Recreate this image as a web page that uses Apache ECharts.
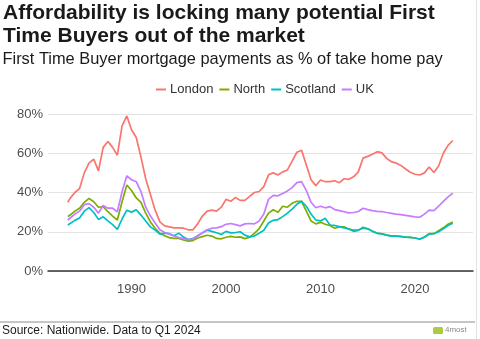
<!DOCTYPE html>
<html>
<head>
<meta charset="utf-8">
<script src="https://cdn.jsdelivr.net/npm/echarts@6/dist/echarts.min.js"></script>
<style>
  html, body { margin: 0; padding: 0; background: #ffffff; }
  #chart { width: 480px; height: 339px; }
</style>
</head>
<body>
<div id="chart"></div>
<script>
// Half-yearly observation dates (decimal years)
const periods = [
  1983.25, 1983.5, 1984.0, 1984.5, 1985.0, 1985.5, 1986.0, 1986.5, 1987.0, 1987.5,
  1988.0, 1988.5, 1989.0, 1989.5, 1990.0, 1990.5, 1991.0, 1991.5, 1992.0, 1992.5,
  1993.0, 1993.5, 1994.0, 1994.5, 1995.0, 1995.5, 1996.0, 1996.5, 1997.0, 1997.5,
  1998.0, 1998.5, 1999.0, 1999.5, 2000.0, 2000.5, 2001.0, 2001.5, 2002.0, 2002.5,
  2003.0, 2003.5, 2004.0, 2004.5, 2005.0, 2005.5, 2006.0, 2006.5, 2007.0, 2007.5,
  2008.0, 2008.5, 2009.0, 2009.5, 2010.0, 2010.5, 2011.0, 2011.5, 2012.0, 2012.5,
  2013.0, 2013.5, 2014.0, 2014.5, 2015.0, 2015.5, 2016.0, 2016.5, 2017.0, 2017.5,
  2018.0, 2018.5, 2019.0, 2019.5, 2020.0, 2020.5, 2021.0, 2021.5, 2022.0, 2022.5,
  2023.0, 2023.5, 2024.0
];

// First Time Buyer mortgage payments as % of take home pay
const london = [
  35, 37, 40, 42, 50, 55, 57, 51, 63, 66,
  63, 59, 74, 79, 72, 68, 58, 47, 39, 31,
  25, 23, 22.5, 22, 22, 21.8, 21, 21, 24, 28,
  30.5, 31, 30.5, 32.5, 36.5, 35.5, 37.5, 36, 36, 38,
  40, 40.5, 43, 49, 50, 48.9, 50.5, 51.5, 56, 60.5,
  61.5, 54, 46.5, 43.5, 46.4, 45.5, 45.5, 46, 45, 47,
  46.7, 48, 50.5, 57.5, 58.4, 59.5, 60.8, 60.2, 57.4, 55.7,
  55, 53.8, 52, 50.3, 49.3, 48.9, 50, 53, 50.2, 53.5,
  60, 64, 66.5
];
const north = [
  27.7, 28.5, 30.5, 32, 35, 37, 35.3, 32.5, 32.8, 30.2,
  28, 26, 35.3, 43.8, 41, 37.2, 35, 29.5, 25, 21.8,
  19.2, 18, 17, 16.6, 16.6, 15.8, 15.2, 15.5, 16.8, 17.5,
  18.2, 17.8, 16.6, 16.4, 17.2, 17.6, 17.2, 17.4, 16.5, 17.2,
  19.2, 21.5, 25.5, 29.5, 31.2, 29.9, 33, 32.5, 34.5, 35.5,
  35.5, 30.5, 25.5, 24, 24.8, 23.8, 23.2, 21.8, 22.5, 22.5,
  21.3, 20.8, 20.9, 21.8, 21.5, 20.3, 19.3, 18.9, 18.3, 17.9,
  17.8, 17.6, 17.3, 17.1, 16.8, 16.3, 17.3, 19, 19, 20.5,
  22, 23.8, 25
];
const scotland = [
  23.4, 24.2, 25.8, 27, 30.5, 32.3, 29.8, 26.3, 27.6, 25.5,
  23.6, 21.2, 26.5, 31, 30, 31.2, 28.5, 25.5, 22.5, 20.8,
  18.8, 19.3, 19, 18, 19.3, 17.3, 16, 16.5, 18, 19.4,
  20.8, 20.2, 19.5, 18.6, 20.2, 19.4, 19.6, 20, 18.3, 17.4,
  17.8, 19.2, 20.8, 24.5, 25.8, 26.2, 27.7, 29.5, 31.5, 34,
  35.5, 33, 29, 26, 25.5, 26.9, 23.4, 23.2, 22.6, 22,
  21.4, 20.2, 20.7, 22.3, 21.5, 20.2, 19.2, 18.9, 18.3, 17.8,
  17.8, 17.5, 17.3, 17.1, 16.8, 16.2, 17.2, 18.8, 19, 20,
  21.5, 23.2, 24.3
];
const uk = [
  26, 27, 29, 30.5, 33.8, 34.3, 32.5, 29.5, 33.4, 32,
  32, 30.2, 40.4, 48.5, 46.5, 45.5, 40.5, 32.5, 28, 24.5,
  21, 19.6, 18.8, 17.8, 17, 16.5, 16, 16.3, 17.8, 19.5,
  21, 21.8, 22, 22.6, 23.8, 24.2, 23.6, 23, 24, 24.2,
  24, 25.5, 29, 36.5, 38.5, 38.3, 39.5, 40.8, 42.5, 45,
  45.5, 41, 35, 32.2, 33, 32.2, 32.8, 31.3, 30.8, 30.2,
  29.6, 29.8, 30.3, 32, 31.3, 30.8, 30.4, 30.3, 29.8, 29.4,
  29, 28.7, 28.3, 28, 27.6, 27.4, 29, 31, 30.8, 33,
  35.5, 37.8, 39.6
];

const seriesNames = ['London', 'North', 'Scotland', 'UK'];
const seriesValues = [london, north, scotland, uk];
const seriesColors = ['#F8766D', '#7CAE00', '#00BFC4', '#C77CFF'];
const yearTicks = [1990, 2000, 2010, 2020];
const pctTicks = [0, 20, 40, 60, 80];

const FONT = '"Liberation Sans", Arial, Helvetica, sans-serif';

const chart = echarts.init(document.getElementById('chart'), null, { renderer: 'canvas' });

chart.setOption({
  backgroundColor: '#ffffff',
  animation: false,
  textStyle: { fontFamily: FONT },
  legend: {
    data: seriesNames,
    left: 151,
    top: 78,
    icon: 'rect',
    itemWidth: 10,
    itemHeight: 2,
    itemGap: 6,
    textStyle: { fontFamily: FONT, fontSize: 13, color: '#333333', padding: [0, 0, 0, -1] }
  },
  grid: { left: 48, right: 7, top: 114, bottom: 68, containLabel: false },
  xAxis: {
    type: 'value',
    min: 1981.16,
    max: 2026.14,
    axisLine: { show: true, lineStyle: { color: '#333333', width: 1.5 } },
    axisTick: { show: false },
    splitLine: { show: false },
    axisLabel: {
      customValues: yearTicks,
      formatter: v => String(v),
      fontFamily: FONT,
      fontSize: 13,
      color: '#4d4d4d',
      margin: 12
    }
  },
  yAxis: {
    type: 'value',
    min: 0,
    max: 80,
    interval: 20,
    axisLine: { show: false },
    axisTick: { show: false },
    splitLine: { show: true, lineStyle: { color: '#e3e3e3', width: 1.2 } },
    axisLabel: {
      formatter: v => (pctTicks.includes(v) ? v + '%' : ''),
      fontFamily: FONT,
      fontSize: 13,
      color: '#4d4d4d',
      margin: 5
    }
  },
  series: seriesNames.map((name, i) => ({
    name: name,
    type: 'line',
    data: periods.map((p, j) => [p, seriesValues[i][j]]),
    showSymbol: false,
    smooth: false,
    color: seriesColors[i],
    lineStyle: { width: 1.7, color: seriesColors[i] },
    emphasis: { disabled: true }
  })),
  graphic: [
    {
      type: 'text', left: 3, top: 3,
      style: { text: 'Affordability is locking many potential First', font: 'bold 21px ' + FONT, fill: '#1a1a1a' }
    },
    {
      type: 'text', left: 3, top: 25.5,
      style: { text: 'Time Buyers out of the market', font: 'bold 21px ' + FONT, fill: '#1a1a1a' }
    },
    {
      type: 'text', left: 2.5, top: 51.5,
      style: { text: 'First Time Buyer mortgage payments as % of take home pay', font: '16.4px ' + FONT, fill: '#1a1a1a' }
    },
    {
      type: 'line',
      shape: { x1: 0, y1: 322, x2: 475, y2: 322 },
      style: { stroke: '#8c8c8c', lineWidth: 1 }
    },
    {
      type: 'line',
      shape: { x1: 476.5, y1: 0, x2: 476.5, y2: 339 },
      style: { stroke: '#e2e2e2', lineWidth: 1 }
    },
    {
      type: 'text', left: 2, top: 324.5,
      style: { text: 'Source: Nationwide. Data to Q1 2024', font: '12px ' + FONT, fill: '#1a1a1a' }
    },
    {
      type: 'rect',
      shape: { x: 433, y: 327, width: 10, height: 7, r: 1.5 },
      style: { fill: '#a9cd3c' }
    },
    {
      type: 'text', left: 445, top: 326,
      style: { text: '4most', font: '8px ' + FONT, fill: '#8a8a8a' }
    }
  ]
});
</script>
</body>
</html>
